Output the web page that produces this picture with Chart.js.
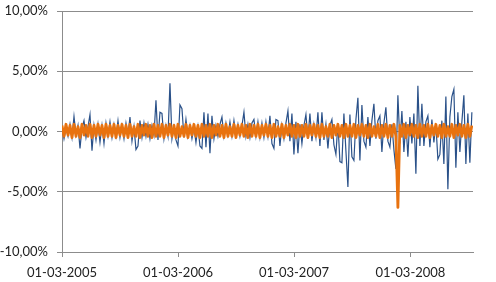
<!DOCTYPE html>
<html>
<head>
<meta charset="utf-8">
<script src="https://cdn.jsdelivr.net/npm/chart.js@4/dist/chart.umd.min.js"></script>
<style>
html,body{margin:0;padding:0;background:#fff;}
#wrap{width:496px;height:282px;}
</style>
</head>
<body>
<div id="wrap"><canvas id="c" width="496" height="282"></canvas></div>
<script>
// x tick labels and their day offsets from 01-03-2005
const xTickLabels = ['01-03-2005','01-03-2006','01-03-2007','01-03-2008'];
const xTickDays = [0, 365, 730, 1096];
const stepDays = 6.29; // sampling interval of the series (days)
const xMaxDays = 1293;

// Series 1 (blue) - daily return estimates (%)
const blueSeries = [
0.4,-0.6,0.3,-0.4,0.6,-0.5,1.25,-0.3,0.5,-1.4,
0.3,0.9,-0.5,0.4,1.4,-1.6,0.5,-0.7,0.6,-0.9,
0.5,-1.0,0.7,-0.4,0.8,-0.5,0.6,-0.4,0.9,-0.5,
0.5,-0.6,0.7,-0.3,1.2,-0.8,0.4,-1.5,-1.2,0.9,
-0.5,0.7,-0.4,0.6,-0.6,0.5,-0.3,2.6,-0.7,1.6,
1.5,-0.6,0.5,-0.4,4.0,-0.6,0.4,-0.7,-1.2,2.2,
1.9,-0.5,1.0,-0.4,0.5,-0.6,0.3,-0.9,0.4,-1.2,
-1.4,1.6,-1.3,1.5,-1.8,1.3,-0.6,0.5,-0.4,0.6,
1.2,-0.4,0.7,-0.3,0.8,-0.4,0.9,-0.3,0.6,-0.4,
0.5,1.6,-0.4,0.6,-0.5,0.7,1.0,-0.4,0.8,-0.5,
0.7,-0.5,0.8,-0.4,1.3,-1.0,-1.4,1.0,0.9,-1.2,
0.5,-0.6,0.7,1.7,-0.8,1.5,-1.9,0.8,-1.8,0.6,
-1.0,0.5,1.4,-0.6,1.5,-0.8,0.6,-0.5,1.6,-1.2,
1.6,-0.7,0.6,-1.4,0.5,1.0,-1.1,-1.9,0.7,-2.5,
-2.6,1.5,-1.6,-4.6,1.4,-2.1,-2.4,1.0,2.8,-2.4,
2.2,-0.8,-1.3,1.2,-1.2,0.9,2.3,-0.6,0.9,1.3,
-1.7,0.7,2.0,-0.8,-1.3,0.6,-1.5,-3.1,3.0,-1.0,
1.7,-1.7,0.8,-2.1,1.2,-1.0,1.5,-3.5,3.8,-1.2,
2.3,-1.2,0.8,1.3,-1.3,1.0,-0.9,0.6,-2.3,-1.9,
0.9,-2.7,2.9,-4.8,1.2,2.9,3.5,-3.0,1.6,-1.7,
0.8,3.0,-2.7,1.5,-2.6,1.6
];

// Series 2 (orange) - estimates (%)
const orangeSeries = [
0.5,-0.4,0.6,-0.3,0.5,-0.5,0.6,-0.4,0.4,-0.5,
0.6,-0.3,0.5,-0.4,0.6,-0.5,0.5,-0.4,0.6,-0.3,
0.5,-0.5,0.6,-0.4,0.5,-0.4,0.6,-0.5,0.5,-0.3,
0.6,-0.4,0.5,-0.5,0.6,-0.4,0.4,-0.4,0.6,-0.5,
0.5,-0.3,0.6,-0.4,0.5,-0.5,0.6,-0.4,0.5,-0.4,
0.6,-0.5,0.5,-0.3,0.6,-0.4,0.5,-0.5,0.6,-0.4,
0.4,-0.4,0.6,-0.5,0.5,-0.3,0.6,-0.4,0.5,-0.5,
0.6,-0.4,0.5,-0.4,0.6,-0.5,0.5,-0.3,0.6,-0.4,
0.5,-0.5,0.6,-0.4,0.4,-0.4,0.6,-0.5,0.5,-0.3,
0.6,-0.4,0.5,-0.5,0.6,-0.4,0.5,-0.4,0.6,-0.5,
0.5,-0.3,0.6,-0.4,0.5,-0.5,0.6,-0.4,0.4,-0.4,
0.6,-0.5,0.5,-0.3,0.6,-0.4,0.5,-0.5,0.6,-0.4,
0.5,-0.4,0.6,-0.5,0.5,-0.3,0.6,-0.4,0.5,-0.5,
0.6,-0.4,0.4,-0.4,0.6,-0.5,0.5,-0.3,0.6,-0.4,
0.5,-0.5,0.6,-0.4,0.5,-0.4,0.6,-0.5,0.5,-0.3,
0.6,-0.4,0.5,-0.5,0.6,-0.4,0.4,-0.4,0.6,-0.5,
0.5,-0.4,0.6,-0.5,0.5,-0.4,0.6,-0.4,-6.3,0.5,
-0.4,0.6,-0.5,0.5,-0.3,0.6,-0.4,0.5,-0.5,0.6,
-0.4,0.5,-0.4,0.6,-0.5,0.5,-0.3,0.6,-0.4,0.5,
-0.5,0.6,-0.4,0.4,-0.4,0.6,-0.5,0.5,-0.3,0.6,
-0.4,0.5,-0.5,0.6,-0.4,0.5
];

const toPts = arr => arr.map((v, i) => ({x: i * stepDays, y: v}));
const GRID = '#8c8c8c';
const FONT = {family: 'Lato, "Open Sans", sans-serif', size: 13};

new Chart(document.getElementById('c'), {
  type: 'line',
  data: {
    datasets: [
      {label: 'Serie 1', data: toPts(blueSeries), borderColor: '#2a5189', borderWidth: 1.2,
       pointRadius: 0, tension: 0, order: 1},
      {label: 'Serie 2', data: toPts(orangeSeries), borderColor: '#e8720f', borderWidth: 2.8,
       borderJoinStyle: 'round', pointRadius: 0, tension: 0, order: 0}
    ]
  },
  options: {
    responsive: false,
    animation: false,
    layout: {padding: {top: 11, right: 23, left: 0, bottom: 0}},
    plugins: {legend: {display: false}, tooltip: {enabled: false}},
    scales: {
      x: {
        type: 'linear', min: 0, max: xMaxDays,
        afterBuildTicks: s => { s.ticks = xTickDays.map(v => ({value: v})); },
        afterFit: s => { s.height = 30; s.paddingLeft = 0; s.paddingRight = 0; },
        ticks: {
          autoSkip: false, maxRotation: 0, padding: 8, color: '#222', font: FONT,
          callback: (v) => { const i = xTickDays.indexOf(v); return i >= 0 ? xTickLabels[i] : ''; }
        },
        grid: {drawOnChartArea: false, drawTicks: true, tickLength: 5, color: GRID},
        border: {color: GRID, width: 1}
      },
      y: {
        min: -10, max: 10,
        afterFit: s => { s.width = 62; s.paddingTop = 0; s.paddingBottom = 0; },
        ticks: {
          stepSize: 5, padding: 9, color: '#222', font: FONT,
          callback: v => v.toFixed(2).replace('.', ',') + '%'
        },
        grid: {color: GRID, tickLength: 5, drawTicks: true},
        border: {color: GRID, width: 1}
      }
    }
  }
});
</script>
</body>
</html>
